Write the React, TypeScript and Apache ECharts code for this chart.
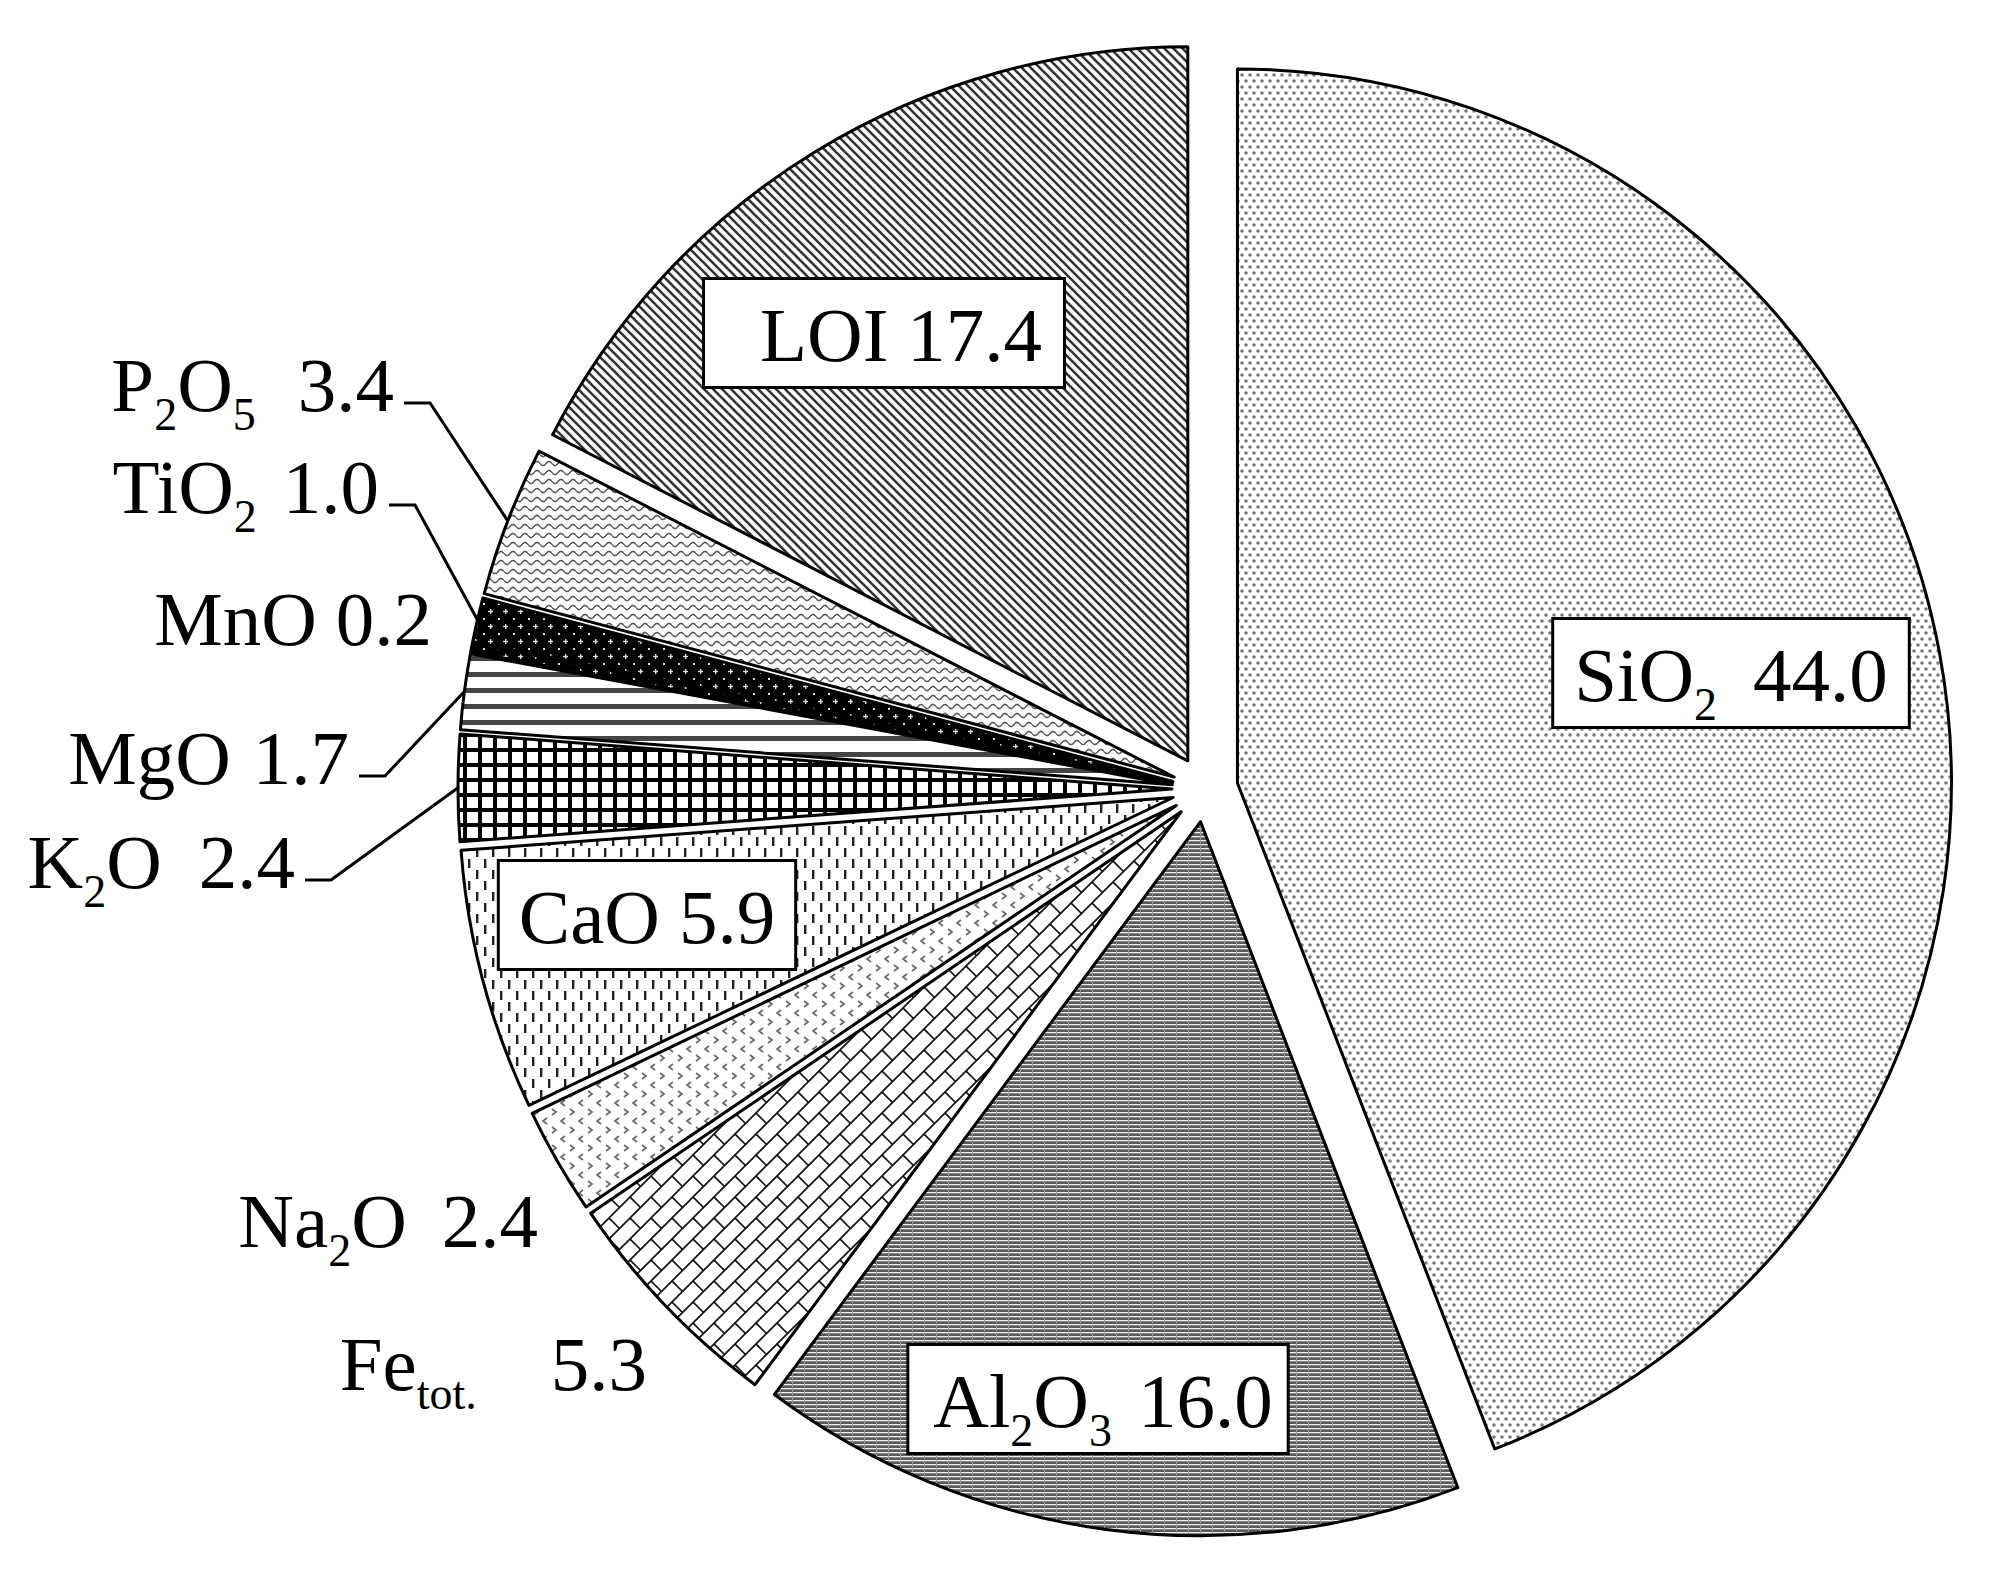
import React, { useEffect, useRef } from 'react';
import * as echarts from 'echarts';

// ---------- data ----------
const names = ['SiO_2', 'Al_2O_3', 'Fe_tot.', 'Na_2O', 'CaO', 'K_2O', 'MgO', 'MnO', 'TiO_2', 'P_2O_5', 'LOI'];
const values = [44.0, 16.0, 5.3, 2.4, 5.9, 2.4, 1.7, 0.2, 1.0, 3.4, 17.4];

// ---------- layout / style ----------
const CX = 1205;
const CY = 789;
const RADIUS = 714;
const explode = [33, 33, 33, 33, 33, 33, 33, 33, 33, 33, 33];
const valueGap = [36, 26, 74, 35, 19, 37, 22, 19, 26, 42, 19];
const boxed = [true, true, false, false, true, false, false, false, false, false, true];
const lined = [false, false, false, false, false, true, true, false, true, true, false];
const labelPos: number[][] = [
  [1731, 673], [1098, 1399], [657, 1382], [548, 1239], [647, 915],
  [305, 880], [359, 776], [442, 637], [389, 505], [404, 403], [884, 333],
];
const OUT_PAD = [0, 10, 36, 0];
const boxPadding: number[][] = [
  [16, 20, 13, 20], [16, 14, 13, 24], OUT_PAD, OUT_PAD, [16, 19, 13, 19],
  OUT_PAD, OUT_PAD, OUT_PAD, OUT_PAD, OUT_PAD, [16, 21, 13, 55],
];
const FONT = '"Liberation Serif", "Times New Roman", serif';
const FS = 77;
const SUB = 46;

type Draw = (g: CanvasRenderingContext2D, w: number, h: number) => void;
function tile(w: number, h: number, draw: Draw) {
  const c = document.createElement('canvas');
  c.width = w;
  c.height = h;
  const g = c.getContext('2d')!;
  g.fillStyle = '#fff';
  g.fillRect(0, 0, w, h);
  draw(g, w, h);
  return { image: c.toDataURL('image/png'), repeat: 'repeat', imageWidth: w, imageHeight: h };
}

function makePatterns() {
  const dots = tile(8, 12, (g) => {
    g.fillStyle = '#7a7a7a';
    [[2, 3], [6, 9]].forEach(([x, y]) => {
      g.beginPath();
      g.arc(x, y, 1.8, 0, Math.PI * 2);
      g.fill();
    });
  });
  const al = tile(12, 4, (g) => {
    g.fillStyle = '#5a5a5a';
    g.fillRect(0, 0, 12, 4);
    g.fillStyle = '#eeeeee';
    g.fillRect(0, 0, 12, 1.3);
    g.fillStyle = '#9a9a9a';
    g.fillRect(0, 0, 1, 4);
  });
  const brick = tile(21, 21, (g) => {
    const h = 21 / Math.SQRT2;
    const k = 1 / Math.SQRT2;
    g.setTransform(k, -k, k, k, 0, 0);
    g.strokeStyle = '#111';
    g.lineWidth = 1.7;
    for (let r = -6; r <= 6; r++) {
      g.beginPath();
      g.moveTo(-90, r * h);
      g.lineTo(90, r * h);
      g.stroke();
      for (let m = -6; m <= 6; m++) {
        const u = m * 2 * h + (Math.abs(r) % 2) * h;
        g.beginPath();
        g.moveTo(u, r * h);
        g.lineTo(u, (r + 1) * h);
        g.stroke();
      }
    }
    g.setTransform(1, 0, 0, 1, 0, 0);
  });
  const chev = tile(18, 18, (g) => {
    g.strokeStyle = '#6a6a6a';
    g.lineWidth = 1.7;
    g.beginPath();
    g.moveTo(7, 2); g.lineTo(3, 5); g.lineTo(7, 8);
    g.moveTo(12, 11); g.lineTo(16, 14); g.lineTo(12, 17);
    g.stroke();
  });
  const dash = tile(16, 22, (g) => {
    g.fillStyle = '#222';
    g.fillRect(4, 1, 2.4, 9);
    g.fillRect(12, 12, 2.4, 9);
  });
  const grid = tile(15, 15, (g) => {
    g.fillStyle = '#000';
    g.fillRect(0, 0, 15, 15);
    g.fillStyle = '#fff';
    g.fillRect(2, 2, 11, 11);
  });
  const hl = tile(4, 16, (g) => {
    g.fillStyle = '#444';
    g.fillRect(0, 0, 4, 5);
  });
  const dark = tile(15, 15, (g) => {
    g.fillStyle = '#000';
    g.fillRect(0, 0, 15, 15);
    g.fillStyle = '#ddd';
    g.fillRect(3, 3, 2, 2);
    g.fillRect(10, 9, 1.4, 5);
    g.fillRect(8, 10.8, 5, 1.4);
  });
  const wave = tile(12, 9, (g) => {
    g.strokeStyle = '#555';
    g.lineWidth = 1.5;
    g.beginPath();
    for (let x = 0; x <= 12; x += 0.5) {
      const y = 4.5 + 2 * Math.sin((2 * Math.PI * x) / 12);
      if (x === 0) g.moveTo(x, y);
      else g.lineTo(x, y);
    }
    g.stroke();
  });
  const diag = tile(9, 9, (g) => {
    g.strokeStyle = '#333';
    g.lineWidth = 2.6;
    for (let k = -2; k <= 2; k++) {
      g.beginPath();
      g.moveTo(k * 9 - 2, -2);
      g.lineTo(k * 9 + 11, 11);
      g.stroke();
    }
  });
  return [dots, al, brick, chev, dash, grid, hl, dark, dark, wave, diag];
}

function richLabel(name: string, value: number) {
  const parts = name.split(/_(\d|tot\.)/);
  let s = '';
  parts.forEach((p, k) => {
    if (!p) return;
    s += k % 2 ? `{s|${p}}` : `{m|${p}}`;
  });
  return s + `{v|${value.toFixed(1)}}`;
}

export default function App() {
  const ref = useRef<HTMLDivElement>(null);
  useEffect(() => {
    document.body.style.margin = '0';
    const chart = echarts.init(ref.current!, null, { renderer: 'svg' });
    const patterns = makePatterns();
    const total = values.reduce((a, b) => a + b, 0);
    let cum = 0;
    const series = values.map((v, i) => {
      const mid = 90 - (360 * (cum + v / 2)) / total;
      cum += v;
      const rad = (mid * Math.PI) / 180;
      const cx = CX + explode[i] * Math.cos(rad);
      const cy = CY - explode[i] * Math.sin(rad);
      const rich = {
        m: { fontFamily: FONT, fontSize: FS, lineHeight: FS, color: '#000' },
        s: { fontFamily: FONT, fontSize: SUB, height: 18, verticalAlign: 'bottom', color: '#000' },
        v: { fontFamily: FONT, fontSize: FS, lineHeight: FS, color: '#000', padding: [0, 0, 0, valueGap[i]] },
      };
      return {
        type: 'pie',
        silent: true,
        startAngle: 90,
        clockwise: true,
        radius: RADIUS,
        center: [cx, cy],
        avoidLabelOverlap: false,
        minShowLabelAngle: 0,
        label: {
          show: true,
          position: boxed[i] ? 'inside' : 'outside',
          formatter: () => richLabel(names[i], values[i]),
          rich,
          lineHeight: FS,
          padding: boxPadding[i],
          backgroundColor: boxed[i] ? '#fff' : 'transparent',
          borderColor: boxed[i] ? '#000' : 'transparent',
          borderWidth: boxed[i] ? 3 : 0,
        },
        labelLine: {
          show: lined[i],
          length: 10,
          length2: 26,
          smooth: false,
          lineStyle: { color: '#000', width: 3 },
        },
        labelLayout: () => ({
          x: labelPos[i][0],
          y: labelPos[i][1],
          align: boxed[i] ? 'center' : 'right',
          verticalAlign: 'middle',
        }),
        data: values.map((val, j) =>
          j === i
            ? {
                name: names[j],
                value: val,
                itemStyle: { color: patterns[j], borderColor: '#000', borderWidth: 3 },
              }
            : {
                name: names[j],
                value: val,
                itemStyle: { color: 'rgba(0,0,0,0)', borderWidth: 0 },
                label: { show: false },
                labelLine: { show: false },
              }
        ),
      };
    });
    chart.setOption({
      animation: false,
      backgroundColor: '#fff',
      series,
    });
    return () => chart.dispose();
  }, []);
  return <div ref={ref} style={{ width: 1992, height: 1584 }} />;
}
